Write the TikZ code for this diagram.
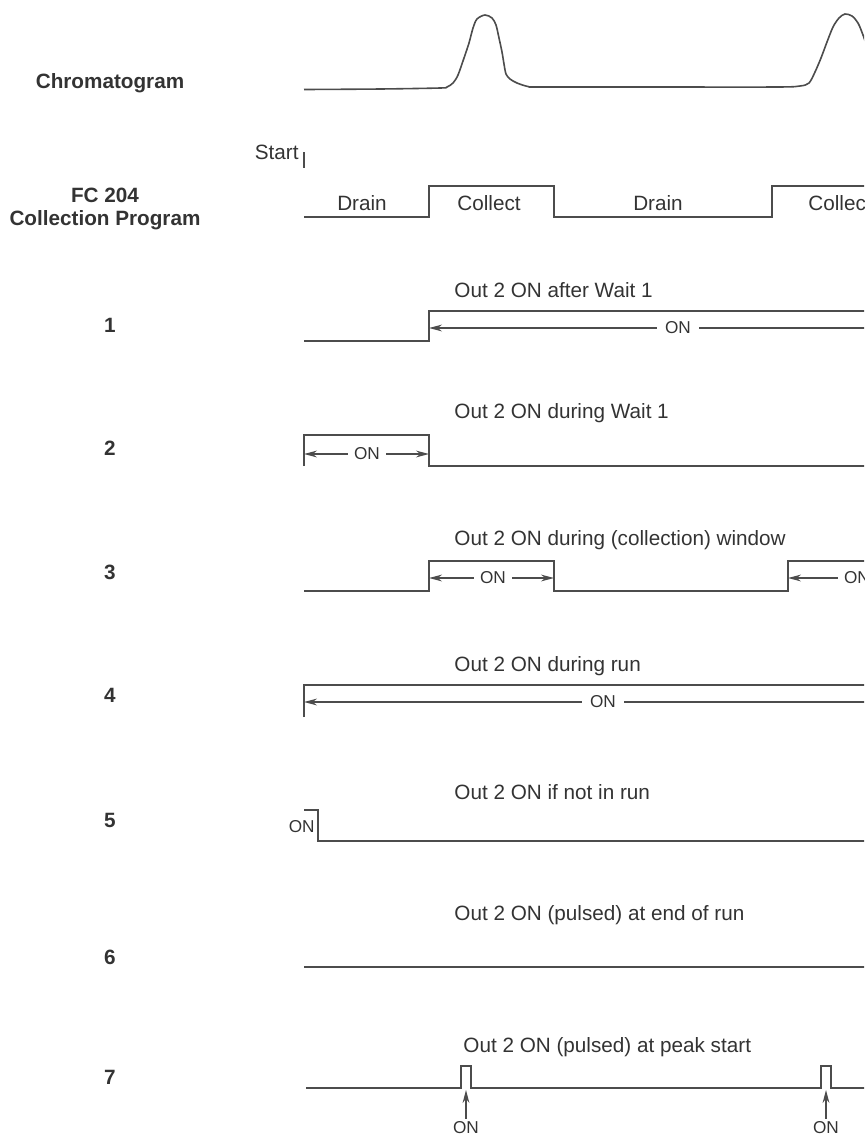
\documentclass[tikz,border=0pt]{standalone}
\usepackage{fontspec}
\setmainfont{Liberation Sans}
\usetikzlibrary{arrows.meta}

\begin{document}
\begin{tikzpicture}[x=0.5pt, y=-0.5pt, >={Stealth[length=6.5pt,width=3.4pt]},
  sig/.style={draw=black!70, line width=0.9pt},
  dim/.style={draw=black!70, line width=0.7pt},
  lbl/.style={font=\fontsize{10.35}{11.5}\selectfont, text=black!80, inner sep=0pt},
  rowno/.style={lbl, font=\fontsize{10.35}{11.5}\selectfont\bfseries},
  onlbl/.style={font=\fontsize{8.6}{10}\selectfont, text=black!80, inner sep=3pt}]

% ----------------------------
% PARAMETERS
% ----------------------------
\def\xs{304}   % run start
\def\xa{429}   % window opens
\def\xb{554}   % window closes
\def\xe{870}   % past the right edge

\useasboundingbox (0,0) rectangle (864,1137);
\clip (0,0) rectangle (864,1137);

% ----------------------------
% LEFT COLUMN
% ----------------------------
\node[rowno] (chrom) at (110,83) {Chromatogram};
\node[rowno, align=center] (fcprog) at (105,208.5) {FC 204\\Collection Program};

\foreach \n/\y in {1/325,2/448,3/572,4/695,5/820,6/957,7/1077} {
  \node[rowno] (row\n) at (110,\y) {\n};
}

% ----------------------------
% CHROMATOGRAM
% ----------------------------
\draw[sig, line width=0.8pt] plot[smooth, tension=0.5] coordinates {
  (304,89.5) (380,89) (440,88) (447,87) (453,83) (458,75) (464,58)
  (469,43) (473,28) (477,19) (485,15) (492,18) (496,25) (499,38)
  (502,52) (504,64) (506,74) (510,79) (517,83) (528,86.5) (540,87)
  (650,87) (777,87) (800,86) (809,83) (815,72) (821,58) (827,42)
  (833,27) (839,18) (845,14) (852,16) (858,23) (863,35) (868,50)};

% ----------------------------
% COLLECTION PROGRAM
% ----------------------------
\node[lbl, anchor=east] (start) at (299,152) {Start};
\coordinate (tick) at (\xs,152);
\draw[sig] (tick) -- ++(0,16);

\draw[sig] (\xs,217) -- (\xa,217) -- (\xa,186) -- (\xb,186) -- (\xb,217)
  -- (772,217) -- (772,186) -- (\xe,186);
\node[lbl] (drain1) at (362,203) {Drain};
\node[lbl] (coll1) at (489,203) {Collect};
\node[lbl] (drain2) at (658,203) {Drain};
\node[lbl, anchor=west] (coll2) at (808,203) {Collect};

% ----------------------------
% 1: after Wait 1
% ----------------------------
\node[lbl, anchor=west] (t1) at (454,290) {Out 2 ON after Wait 1};
\draw[sig] (\xs,341) -- (\xa,341) -- (\xa,311) -- (\xe,311);
\node[onlbl, inner sep=4pt] (on1) at (678,328) {ON};
\coordinate (a1) at (\xa,328);
\coordinate (e1) at (\xe,328);
\draw[dim,->] (on1.west) -- (a1);
\draw[dim] (on1.east) -- (e1);

% ----------------------------
% 2: during Wait 1
% ----------------------------
\node[lbl, anchor=west] (t2) at (454,413) {Out 2 ON during Wait 1};
\draw[sig] (\xs,466) -- (\xs,435) -- (\xa,435) -- (\xa,466) -- (\xe,466);
\node[onlbl] (on2) at (367,454) {ON};
\coordinate (a2) at (\xs,454);
\coordinate (b2) at (\xa,454);
\draw[dim,->] (on2.west) -- (a2);
\draw[dim,->] (on2.east) -- (b2);

% ----------------------------
% 3: during collection window
% ----------------------------
\node[lbl, anchor=west] (t3) at (454,540) {Out 2 ON during (collection) window};
\draw[sig] (\xs,591) -- (\xa,591) -- (\xa,561) -- (\xb,561) -- (\xb,591)
  -- (788,591) -- (788,561) -- (\xe,561);
\node[onlbl] (on3) at (493,578) {ON};
\coordinate (a3) at (\xa,578);
\coordinate (b3) at (\xb,578);
\draw[dim,->] (on3.west) -- (a3);
\draw[dim,->] (on3.east) -- (b3);
\node[onlbl] (on3b) at (857,578) {ON};
\coordinate (c3) at (788,578);
\draw[dim,->] (on3b.west) -- (c3);

% ----------------------------
% 4: during run
% ----------------------------
\node[lbl, anchor=west] (t4) at (454,666) {Out 2 ON during run};
\draw[sig] (\xs,717) -- (\xs,685) -- (\xe,685);
\node[onlbl, inner sep=4pt] (on4) at (603,702) {ON};
\coordinate (a4) at (\xs,702);
\coordinate (e4) at (\xe,702);
\draw[dim,->] (on4.west) -- (a4);
\draw[dim] (on4.east) -- (e4);

% ----------------------------
% 5: if not in run
% ----------------------------
\node[lbl, anchor=west] (t5) at (454,792) {Out 2 ON if not in run};
\draw[sig] (\xs,810) -- (318,810) -- (318,841) -- (\xe,841);
\node[onlbl, anchor=east, inner sep=1pt] (on5) at (317,827) {ON};

% ----------------------------
% 6: pulsed at end of run
% ----------------------------
\node[lbl, anchor=west] (t6) at (454,915) {Out 2 ON (pulsed) at end of run};
\draw[sig] (\xs,967) -- (\xe,967);

% ----------------------------
% 7: pulsed at peak start
% ----------------------------
\node[lbl, anchor=west] (t7) at (463,1047) {Out 2 ON (pulsed) at peak start};
\draw[sig] (306,1088) -- (461,1088) -- (461,1066) -- (471,1066) -- (471,1088)
  -- (821,1088) -- (821,1066) -- (831,1066) -- (831,1088) -- (\xe,1088);
\foreach \px/\nm in {466/a,826/b} {
  \node[onlbl, inner sep=1.5pt] (on7\nm) at (\px,1128) {ON};
  \coordinate (p7\nm) at (\px,1090);
  \draw[dim,->] (on7\nm.north) -- (p7\nm);
}

\end{tikzpicture}
\end{document}
